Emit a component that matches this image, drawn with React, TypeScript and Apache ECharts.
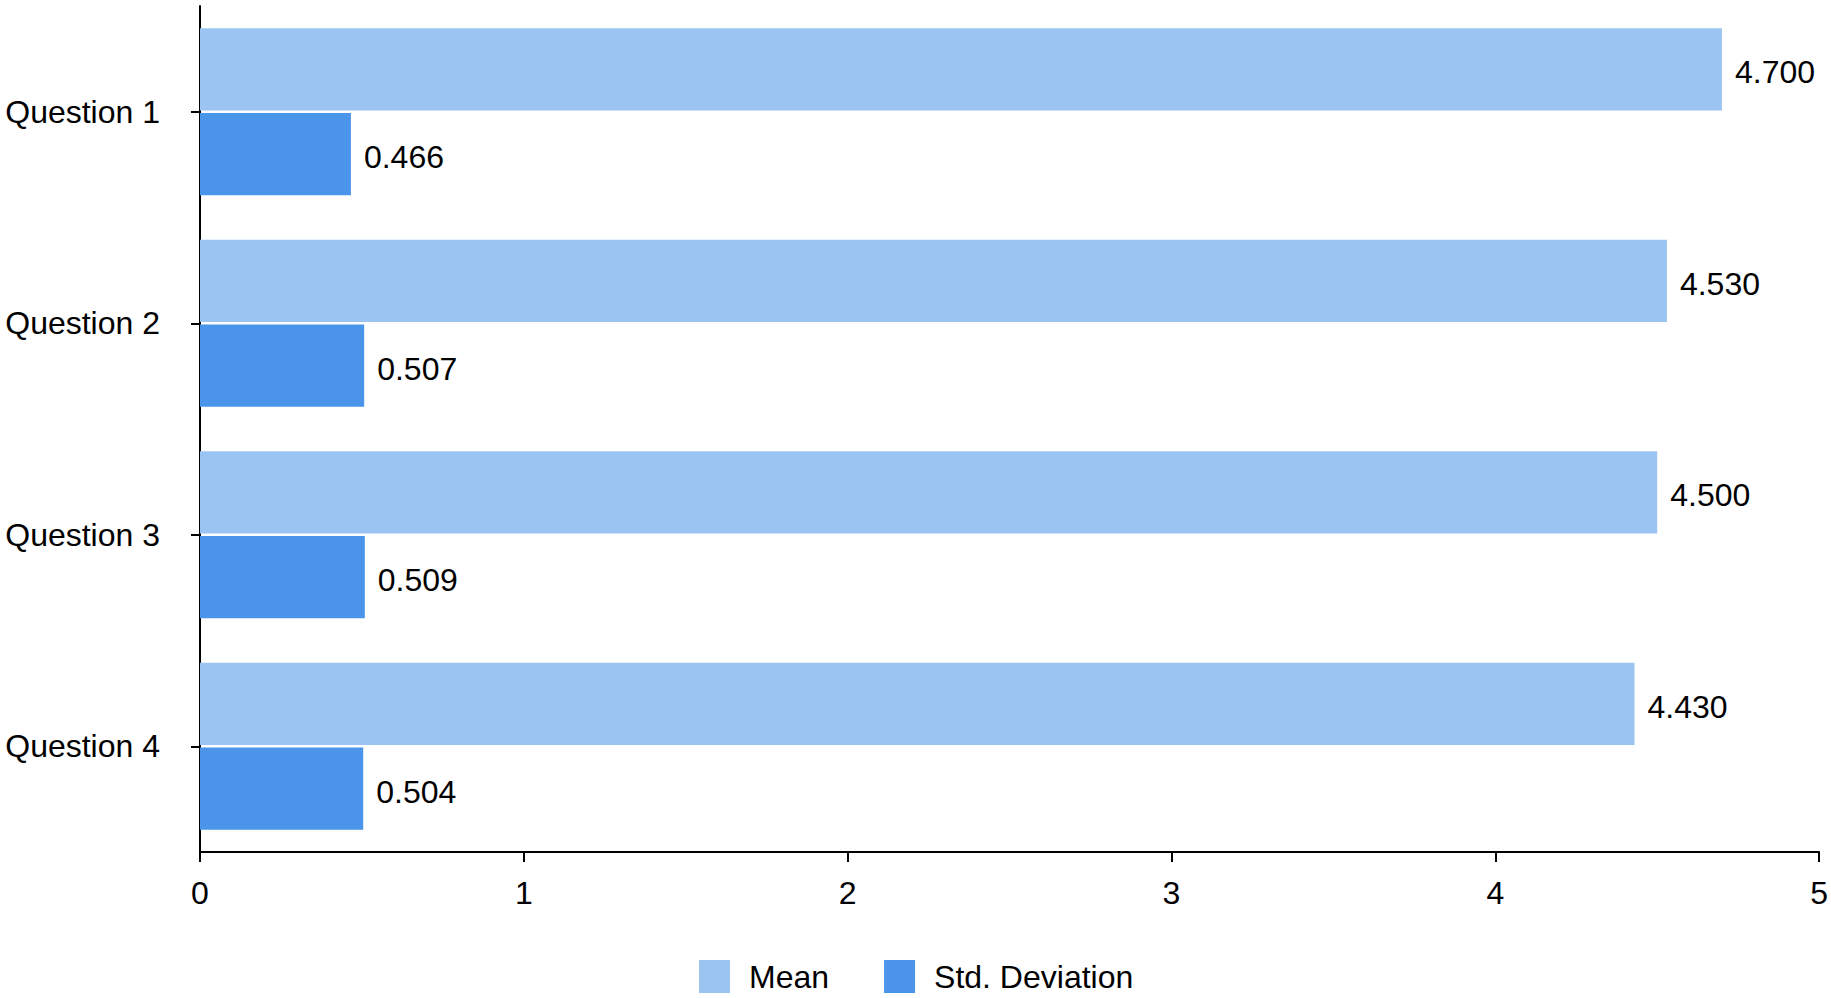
import React, { useEffect, useRef } from 'react';
import * as echarts from 'echarts';

const categories = ['Question 1', 'Question 2', 'Question 3', 'Question 4'];
const meanValues = [4.7, 4.53, 4.5, 4.43];
const stdValues = [0.466, 0.507, 0.509, 0.504];
const xTicks = [0, 5, 1];

const FONT = '"Liberation Sans", Arial, sans-serif';

const App: React.FC = () => {
  const chartRef = useRef<HTMLDivElement>(null);

  useEffect(() => {
    if (!chartRef.current) return;
    const chart = echarts.init(chartRef.current, undefined, { renderer: 'svg' });

    const label = {
      show: true,
      position: 'right' as const,
      distance: 13,
      color: '#000',
      fontSize: 32,
      fontFamily: FONT,
      offset: [0, 3],
      formatter: (p: any) => Number(p.value).toFixed(3)
    };

    chart.setOption({
      animation: false,
      textStyle: { fontFamily: FONT },
      grid: { left: 200, right: 8, top: 6, bottom: 146, containLabel: false },
      legend: {
        left: 694,
        top: 955,
        itemWidth: 31,
        itemHeight: 33,
        itemGap: 55,
        icon: 'rect',
        textStyle: { fontSize: 32, color: '#000', fontFamily: FONT, padding: [0, 0, 0, 14] },
        data: ['Mean', 'Std. Deviation']
      },
      xAxis: {
        type: 'value',
        min: xTicks[0],
        max: xTicks[1],
        interval: xTicks[2],
        splitLine: { show: false },
        axisLine: { show: true, lineStyle: { color: '#000', width: 2 } },
        axisTick: { show: true, length: 10, lineStyle: { color: '#000', width: 2 } },
        axisLabel: { color: '#000', fontSize: 32, margin: 25, fontFamily: FONT }
      },
      yAxis: {
        type: 'category',
        inverse: true,
        data: categories,
        axisLine: { show: true, lineStyle: { color: '#000', width: 2 } },
        axisTick: { show: true, alignWithLabel: true, length: 9, lineStyle: { color: '#000', width: 2 } },
        axisLabel: { color: '#000', fontSize: 32, margin: 40, fontFamily: FONT }
      },
      series: [
        {
          name: 'Mean',
          type: 'bar',
          data: meanValues,
          itemStyle: { color: '#9cc4f2' },
          barGap: '3%',
          barCategoryGap: '21%',
          label
        },
        {
          name: 'Std. Deviation',
          type: 'bar',
          data: stdValues,
          itemStyle: { color: '#4a94ea' },
          label
        }
      ]
    });

    return () => {
      chart.dispose();
    };
  }, []);

  return (
    <div
      ref={chartRef}
      style={{ position: 'fixed', left: 0, top: 0, width: '1831px', height: '998px', background: '#fff' }}
    ></div>
  );
};

export default App;
